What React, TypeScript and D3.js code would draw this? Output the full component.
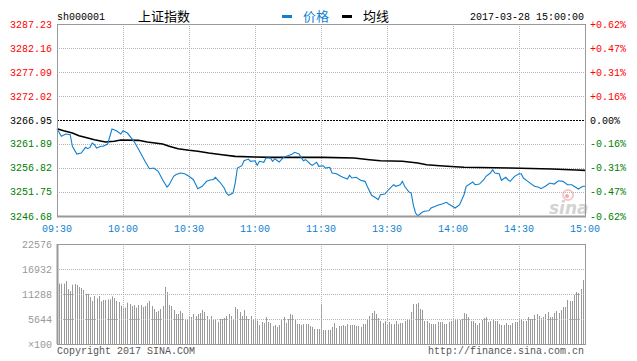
import React from 'react';
import * as d3 from 'd3';

// ---------- data ----------
const priceTicks = [3287.23, 3282.16, 3277.09, 3272.02, 3266.95, 3261.89, 3256.82, 3251.75, 3246.68];
const pctTicks = ['+0.62%', '+0.47%', '+0.31%', '+0.16%', '0.00%', '-0.16%', '-0.31%', '-0.47%', '-0.62%'];
const prevClose = 3266.95;
const volTicks = [22576, 16932, 11288, 5644, 0];
const volTickLabels = ['22576', '16932', '11288', '5644', '×100'];
const timeLabels = ['09:30', '10:00', '10:30', '11:00', '11:30', '13:30', '14:00', '14:30', '15:00'];
const timeTickIdx = [0, 30, 60, 90, 120, 150, 180, 210, 240];

const priceMinutes = [0, 2, 4, 6, 7, 9, 11, 13, 14, 15, 16, 17, 18, 20, 21, 23, 25, 27, 29, 30, 32, 35, 38, 40, 42, 44, 46, 48, 50, 51, 53, 54, 56, 58, 60, 62, 64, 66, 68, 70, 71, 72, 74, 76, 77, 78, 80, 81, 82, 84, 85, 87, 88, 90, 91, 92, 94, 95, 97, 98, 99, 101, 102, 103, 105, 107, 108, 110, 111, 112, 113, 115, 116, 118, 119, 121, 122, 124, 125, 127, 129, 130, 132, 133, 134, 136, 138, 140, 141, 143, 145, 146, 147, 149, 151, 153, 154, 156, 157, 158, 160, 161, 162, 163, 164, 166, 167, 169, 170, 172, 173, 175, 177, 178, 179, 181, 183, 185, 186, 189, 190, 192, 194, 195, 197, 198, 199, 201, 202, 204, 205, 206, 208, 210, 211, 212, 214, 217, 219, 220, 222, 224, 226, 228, 230, 232, 234, 237, 239, 240];
const prices = [3265.11, 3263.51, 3263.99, 3263.85, 3261.40, 3259.77, 3259.98, 3261.18, 3260.89, 3261.18, 3262.09, 3261.73, 3261.04, 3261.40, 3261.40, 3261.88, 3265.05, 3264.69, 3263.99, 3264.69, 3264.20, 3262.45, 3259.98, 3258.23, 3256.66, 3256.81, 3256.12, 3254.34, 3252.80, 3253.29, 3255.06, 3255.40, 3255.76, 3255.61, 3255.06, 3254.34, 3252.44, 3252.95, 3254.00, 3254.34, 3254.34, 3254.85, 3253.86, 3252.59, 3251.53, 3251.05, 3251.53, 3253.64, 3256.81, 3257.30, 3258.35, 3258.71, 3258.23, 3258.35, 3257.38, 3258.23, 3258.02, 3258.92, 3258.92, 3258.23, 3258.78, 3258.08, 3258.57, 3259.07, 3259.41, 3259.77, 3260.13, 3259.77, 3259.07, 3258.35, 3258.57, 3257.72, 3257.38, 3258.02, 3257.17, 3257.30, 3256.81, 3256.96, 3255.76, 3255.61, 3255.06, 3254.85, 3254.49, 3255.27, 3254.70, 3254.85, 3254.22, 3254.00, 3252.95, 3251.05, 3250.48, 3250.12, 3251.17, 3251.32, 3252.38, 3253.29, 3252.95, 3253.29, 3254.00, 3252.95, 3251.74, 3251.53, 3248.93, 3247.31, 3246.70, 3247.46, 3247.67, 3247.79, 3248.36, 3248.72, 3248.93, 3249.21, 3249.57, 3249.21, 3248.93, 3248.36, 3249.06, 3251.17, 3252.95, 3253.86, 3253.29, 3253.43, 3254.34, 3255.06, 3255.76, 3256.45, 3255.76, 3255.61, 3254.22, 3254.85, 3254.34, 3254.00, 3255.06, 3255.61, 3255.61, 3254.70, 3254.00, 3252.95, 3252.74, 3252.44, 3252.95, 3253.64, 3253.43, 3254.13, 3254.00, 3253.29, 3253.29, 3252.38, 3252.95, 3252.95];

const avgMinutes = [0, 3, 7, 10, 14, 17, 22, 26, 29, 37, 41, 48, 51, 55, 60, 64, 69, 75, 81, 90, 97, 121, 135, 142, 147, 157, 164, 168, 174, 181, 185, 206, 225, 236, 240];
const avgPrices = [3265.11, 3264.69, 3264.20, 3263.63, 3263.15, 3262.79, 3262.30, 3262.45, 3262.73, 3262.66, 3262.30, 3261.88, 3261.40, 3260.89, 3260.55, 3260.34, 3259.98, 3259.62, 3259.28, 3259.14, 3259.07, 3259.07, 3258.92, 3258.57, 3258.35, 3258.23, 3257.87, 3257.51, 3257.30, 3257.09, 3256.96, 3256.81, 3256.60, 3256.39, 3256.32];

const volumes = [
  13500, 13620, 13620, 13620, 14220, 12420, 11960, 13390, 13545, 13320,
  12870, 12640, 12190, 11360, 11290, 10610, 9710, 10840, 10310, 10840,
  9630, 9930, 9930, 10080, 10080, 10760, 10380, 9710, 9480, 8650,
  8200, 8200, 9330, 9030, 8580, 8800, 8200, 8800, 8800, 8350,
  8580, 9260, 9710, 8580, 7900, 7220, 7450, 7900, 8580, 12870,
  11740, 8800, 8580, 7680, 6770, 6770, 7450, 7000, 5640, 5640,
  6100, 6100, 6770, 6320, 6770, 7000, 7680, 7220, 6320, 5640,
  6320, 5640, 5420, 4970, 5640, 5640, 5870, 6320, 6770, 6320,
  5420, 8350, 7900, 7220, 6320, 7680, 6320, 5640, 6320, 5420,
  5420, 5270, 4290, 4970, 4740, 6100, 4970, 4740, 4060, 4290,
  3840, 4290, 5640, 6100, 4740, 5640, 6770, 6550, 5420, 4520,
  4520, 4290, 4520, 4520, 4520, 4060, 3840, 3390, 3390, 3390,
  8800, 3160, 3160, 3160, 3160, 3840, 4740, 3610, 4060, 4060,
  4290, 4060, 4520, 4290, 4290, 4290, 4060, 4060, 3840, 4520,
  4520, 5420, 6320, 7000, 7450, 6770, 5870, 5190, 4740, 5190,
  4520, 4970, 4520, 4520, 5190, 4520, 4740, 4740, 5190, 5640,
  5640, 7220, 9030, 9030, 9260, 7900, 7680, 5190, 5190, 4740,
  4520, 4520, 4520, 4970, 4970, 4970, 4520, 4520, 4970, 5190,
  5420, 5640, 5640, 5420, 5640, 7000, 6770, 6100, 5190, 5190,
  4740, 4290, 4740, 5420, 5870, 6100, 4970, 5190, 5640, 5190,
  5190, 4520, 4290, 4290, 4740, 4290, 4290, 4740, 4970, 4970,
  5640, 5420, 5190, 5190, 6100, 5640, 5640, 6550, 6770, 6320,
  5870, 6100, 6770, 7220, 6100, 6100, 7000, 7450, 7000, 7680,
  8350, 8350, 9930, 9710, 9710, 11060, 11740, 11510, 12420, 14450,
  14450,
];

// ---------- layout ----------
const W = 637;
const H = 361;
const L = 57;
const R = 585;
const PT = 24;
const PB = 216;
const VT = 244;
const VB = 344;

const MONO = '"Liberation Mono", "DejaVu Sans Mono", monospace';
const CJK = '"Noto Sans CJK SC", sans-serif';
const BLUE = '#0f7fcf';
const RED = '#ff0000';
const GREEN = '#008000';
const GRID = '#b4b4b4';
const FRAME = '#999999';

export default function App() {
  const x = d3.scaleLinear().domain([0, 240]).range([L, R]);
  const y = d3.scaleLinear().domain([3246.68, 3287.23]).range([PB, PT]);
  const yv = d3.scaleLinear().domain([0, 22576]).range([VB, VT]);

  const priceLine = d3
    .line<number>()
    .x((_, i) => x(priceMinutes[i]))
    .y((d) => y(d));
  const avgLine = d3
    .line<number>()
    .x((_, i) => x(avgMinutes[i]))
    .y((d) => y(d));

  const colorFor = (v: number) => (Math.abs(v - prevClose) < 0.005 ? '#000' : v > prevClose ? RED : GREEN);
  const colorForPct = (s: string) => (s.startsWith('+') ? RED : s.startsWith('-') ? GREEN : '#000');

  const cx = (v: number) => Math.round(v) + 0.5;

  return (
    <svg
      width={W}
      height={H}
      style={{ position: 'absolute', left: 0, top: 0, display: 'block', background: '#fff' }}
    >
      <rect x={0} y={0} width={W} height={H} fill="#fff" />

      {/* header */}
      <text x={57} y={16} dy="0.35em" fontFamily={MONO} fontSize={10} fill="#000">sh000001</text>
      <text x={138} y={16} dy="0.35em" fontFamily={CJK} fontSize={13} fill="#000">上证指数</text>
      <rect x={282} y={15} width={10} height={3} fill={BLUE} />
      <text x={303} y={16} dy="0.35em" fontFamily={CJK} fontSize={13} fill={BLUE}>价格</text>
      <rect x={342} y={15} width={10} height={3} fill="#000" />
      <text x={363} y={16} dy="0.35em" fontFamily={CJK} fontSize={13} fill="#000">均线</text>
      <text x={584} y={16} dy="0.35em" fontFamily={MONO} fontSize={10} fill="#000" textAnchor="end">2017-03-28 15:00:00</text>

      {/* price panel grid */}
      {priceTicks.map((p, i) =>
        i === 0 || i === priceTicks.length - 1 ? null : (
          <line
            key={'hg' + i}
            x1={L}
            x2={R}
            y1={cx(y(p))}
            y2={cx(y(p))}
            stroke={p === prevClose ? '#000' : GRID}
            strokeDasharray={p === prevClose ? '2,1' : '1,1'}
          />
        )
      )}
      {timeTickIdx.slice(1, -1).map((t) => (
        <line key={'vg' + t} x1={cx(x(t))} x2={cx(x(t))} y1={PT} y2={PB} stroke={GRID} strokeDasharray="1,1" />
      ))}

      {/* watermark */}
      <g opacity={0.55}>
        <circle cx={568} cy={195} r={5} fill="none" stroke="#f29a9a" strokeWidth={2} />
        <circle cx={567} cy={196} r={2} fill="#e86a6a" />
        <text x={549} y={214} fontFamily='"DejaVu Sans", sans-serif' fontStyle="italic" fontWeight="bold" fontSize={17} fill="#b0b0b0">sina</text>
      </g>

      {/* lines */}
      <path d={avgLine(avgPrices) || ''} fill="none" stroke="#000" strokeWidth={1.6} />
      <path d={priceLine(prices) || ''} fill="none" stroke={BLUE} strokeWidth={1.1} />

      {/* price frame */}
      <rect x={L + 0.5} y={PT + 0.5} width={R - L} height={PB - PT} fill="none" stroke={FRAME} strokeWidth={1} />
      <line x1={L} x2={R + 1} y1={PB + 0.5} y2={PB + 0.5} stroke={FRAME} strokeWidth={2} />

      {/* price axis labels */}
      {priceTicks.map((p, i) => (
        <text key={'pl' + i} x={52} y={y(p)} dy="0.35em" textAnchor="end" fontFamily={MONO} fontSize={10} fill={colorFor(p)}>
          {p.toFixed(2)}
        </text>
      ))}
      {pctTicks.map((s, i) => (
        <text key={'pr' + i} x={590} y={y(priceTicks[i])} dy="0.35em" textAnchor="start" fontFamily={MONO} fontSize={10} fill={colorForPct(s)}>
          {s}
        </text>
      ))}

      {/* time labels */}
      {timeTickIdx.map((t, i) => (
        <text key={'tl' + i} x={x(t)} y={228} dy="0.35em" textAnchor="middle" fontFamily={MONO} fontSize={10} fill={BLUE}>
          {timeLabels[i]}
        </text>
      ))}

      {/* volume bars */}
      {volumes.map((v, i) => (
        <rect key={'vb' + i} x={Math.round(x(i))} y={yv(v)} width={1} height={VB - yv(v)} fill="#999" />
      ))}

      {/* volume grid */}
      {volTicks.slice(1, -1).map((v, i) => (
        <line key={'vhg' + i} x1={L} x2={R} y1={cx(yv(v))} y2={cx(yv(v))} stroke={GRID} strokeDasharray="1,1" />
      ))}
      {timeTickIdx.slice(1, -1).map((t) => (
        <line key={'vvg' + t} x1={cx(x(t))} x2={cx(x(t))} y1={VT} y2={VB} stroke={GRID} strokeDasharray="1,1" />
      ))}
      <rect x={L + 0.5} y={VT + 0.5} width={R - L} height={VB - VT} fill="none" stroke={FRAME} strokeWidth={1} />
      <line x1={L + 0.5} x2={L + 0.5} y1={VT} y2={VB} stroke={FRAME} strokeWidth={2} />

      {volTicks.map((v, i) => (
        <text key={'vl' + i} x={52} y={yv(v)} dy="0.35em" textAnchor="end" fontFamily={MONO} fontSize={10} fill="#999">
          {volTickLabels[i]}
        </text>
      ))}

      {/* footer */}
      <text x={57} y={350} dy="0.35em" fontFamily={MONO} fontSize={10} fill="#555">Copyright 2017 SINA.COM</text>
      <text x={584} y={350} dy="0.35em" textAnchor="end" fontFamily={MONO} fontSize={10} fill="#555">http://finance.sina.com.cn</text>
    </svg>
  );
}
